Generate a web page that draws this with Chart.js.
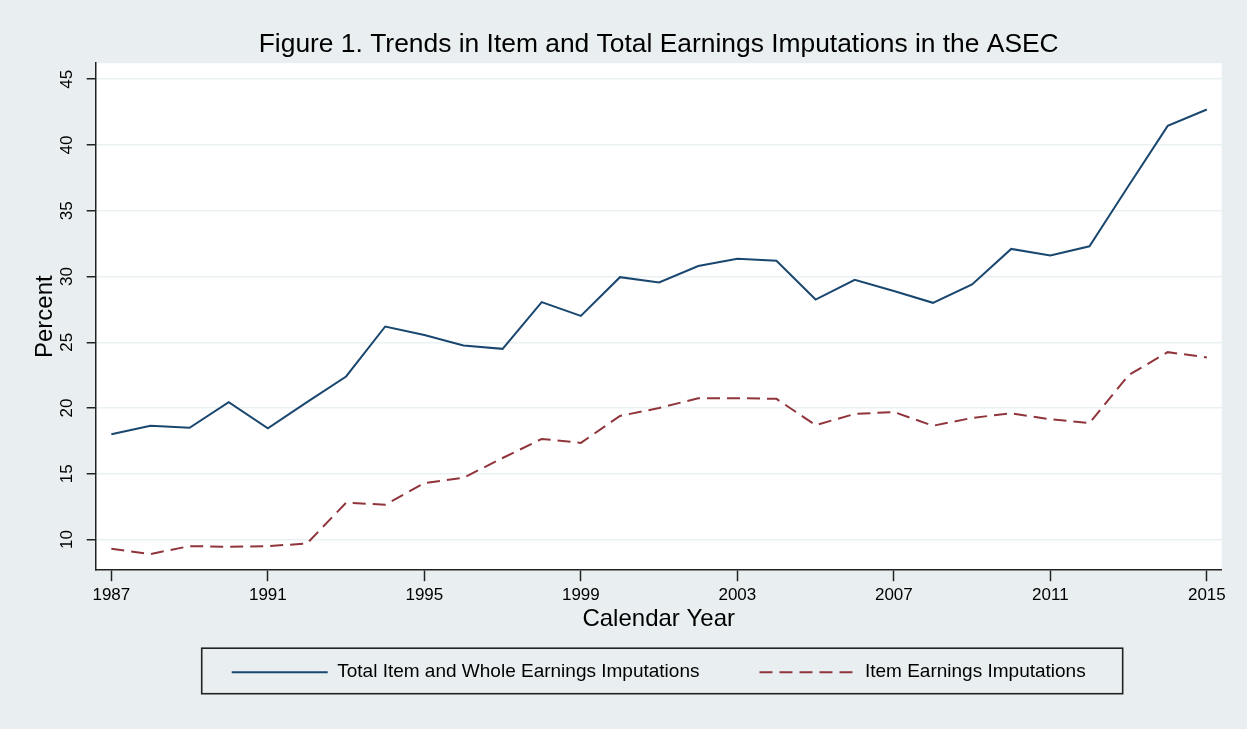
<!DOCTYPE html>
<html lang="en">
<head>
  <meta charset="UTF-8">
  <title>Figure 1. Trends in Item and Total Earnings Imputations in the ASEC</title>
  <script src="https://cdn.jsdelivr.net/npm/chart.js"></script>
  <style>
    body {
      margin: 0;
      background: #e9eff0;
    }
    #wrap {
      width: 1247px;
      height: 729px;
    }
  </style>
</head>
<body>
  <div id="wrap">
    <canvas id="imputeChart" width="1247" height="729"></canvas>
  </div>

  <script>
    const years = [1987, 1988, 1989, 1990, 1991, 1992, 1993, 1994, 1995, 1996,
                   1997, 1998, 1999, 2000, 2001, 2002, 2003, 2004, 2005, 2006,
                   2007, 2008, 2009, 2010, 2011, 2012, 2013, 2014, 2015];
    const totalImputed = [18.0, 18.65, 18.5, 20.45, 18.45, 20.45, 22.4, 26.2, 25.55, 24.75,
                          24.5, 28.05, 27.0, 29.95, 29.55, 30.8, 31.35, 31.2, 28.25, 29.75,
                          28.9, 28.0, 29.4, 32.1, 31.6, 32.3, 36.9, 41.45, 42.7];
    const itemImputed = [9.3, 8.9, 9.5, 9.45, 9.5, 9.7, 12.8, 12.65, 14.3, 14.7,
                         16.2, 17.65, 17.35, 19.4, 20.0, 20.75, 20.75, 20.7, 18.7, 19.55,
                         19.7, 18.65, 19.25, 19.6, 19.15, 18.85, 22.5, 24.25, 23.85];
    const xTicks = [1987, 1991, 1995, 1999, 2003, 2007, 2011, 2015];
    const yTicks = [10, 15, 20, 25, 30, 35, 40, 45];

    const FONT = '"Liberation Sans", Arial, Helvetica, sans-serif';
    const BG = '#e9eff0';

    // page bg + white plot region, then the frame round the legend
    const frames = {
      id: 'frames',
      beforeDraw(chart) {
        const { ctx, chartArea: a } = chart;
        ctx.save();
        ctx.fillStyle = BG;
        ctx.fillRect(0, 0, chart.width, chart.height);
        ctx.fillStyle = '#ffffff';
        ctx.fillRect(a.left, a.top, a.right - a.left, a.bottom - a.top);
        ctx.restore();
      },
      afterDraw(chart) {
        const boxes = chart.legend.legendHitBoxes;
        if (!boxes || !boxes.length) return;
        const left = Math.min(...boxes.map(b => b.left)) - 30;
        const right = Math.max(...boxes.map(b => b.left + b.width)) + 37;
        const mid = boxes[0].top + boxes[0].height / 2;
        const top = mid - 24;
        const bottom = mid + 21.5;
        const ctx = chart.ctx;
        ctx.save();
        ctx.globalCompositeOperation = 'destination-over';
        ctx.fillStyle = '#ffffff';
        ctx.fillRect(left, top, right - left, bottom - top);
        ctx.globalCompositeOperation = 'source-over';
        ctx.strokeStyle = '#222';
        ctx.lineWidth = 1.6;
        ctx.strokeRect(left, top, right - left, bottom - top);
        ctx.restore();
      }
    };

    // legend keys take the point style by default, so put the line's dash/width back
    function lineKeys(chart) {
      const items = Chart.defaults.plugins.legend.labels.generateLabels(chart);
      return items.map(item => {
        const ds = chart.data.datasets[item.datasetIndex];
        item.lineDash = ds.borderDash || [];
        item.lineWidth = ds.borderWidth;
        item.strokeStyle = ds.borderColor;
        return item;
      });
    }

    const ctx = document.getElementById('imputeChart').getContext('2d');
    new Chart(ctx, {
      type: 'line',
      data: {
        datasets: [{
          label: 'Total Item and Whole Earnings Imputations',
          data: years.map((yr, i) => ({ x: yr, y: totalImputed[i] })),
          borderColor: '#1a476f',
          borderWidth: 2,
          pointRadius: 0,
          tension: 0,
          fill: false
        }, {
          label: 'Item Earnings Imputations',
          data: years.map((yr, i) => ({ x: yr, y: itemImputed[i] })),
          borderColor: '#90353b',
          borderWidth: 2,
          borderDash: [13, 7],
          pointRadius: 0,
          tension: 0,
          fill: false
        }]
      },
      options: {
        responsive: false,
        animation: false,
        layout: {
          padding: { top: 0, left: 0, right: 25.3, bottom: 37.3 }
        },
        plugins: {
          title: {
            display: true,
            text: 'Figure 1. Trends in Item and Total Earnings Imputations in the ASEC',
            fullSize: false,
            color: '#000',
            font: { family: FONT, size: 26.4, weight: 'normal', lineHeight: 1.2 },
            padding: { top: 28.5, bottom: 3 }
          },
          legend: {
            position: 'bottom',
            fullSize: false,
            labels: {
              color: '#000',
              font: { family: FONT, size: 19 },
              usePointStyle: true,
              pointStyle: 'line',
              pointStyleWidth: 96,
              padding: 60,
              generateLabels: lineKeys
            }
          },
          tooltip: { enabled: false }
        },
        scales: {
          x: {
            type: 'linear',
            min: 1986.6,
            max: 2015.38,
            afterBuildTicks: s => { s.ticks = xTicks.map(v => ({ value: v })); },
            // axis box only as tall as the tick labels; the legend sits right under it
            afterFit: s => { s.height = 32.5; },
            border: { color: '#222', width: 1.5 },
            grid: {
              drawOnChartArea: false,
              tickColor: '#222',
              tickWidth: 1.5,
              tickLength: 11
            },
            ticks: {
              color: '#000',
              font: { family: FONT, size: 17 },
              padding: 4,
              maxRotation: 0,
              callback: v => String(v)
            },
            title: {
              display: true,
              text: 'Calendar Year',
              color: '#000',
              font: { family: FONT, size: 24 },
              padding: { top: 0, bottom: -31.2 }
            }
          },
          y: {
            min: 7.67,
            max: 46.22,
            afterBuildTicks: s => { s.ticks = yTicks.map(v => ({ value: v })); },
            afterFit: s => { s.width = 95.7; },
            border: { color: '#222', width: 1.5 },
            grid: {
              color: '#eaf1f3',
              lineWidth: 1.5,
              tickColor: '#222',
              tickWidth: 1.5,
              tickLength: 9
            },
            ticks: {
              color: '#000',
              font: { family: FONT, size: 17 },
              minRotation: 90,
              maxRotation: 90,
              crossAlign: 'center',
              padding: 10
            },
            title: {
              display: true,
              text: 'Percent',
              color: '#000',
              font: { family: FONT, size: 24 },
              padding: { top: 31 }
            }
          }
        }
      },
      plugins: [frames]
    });
  </script>
</body>
</html>
